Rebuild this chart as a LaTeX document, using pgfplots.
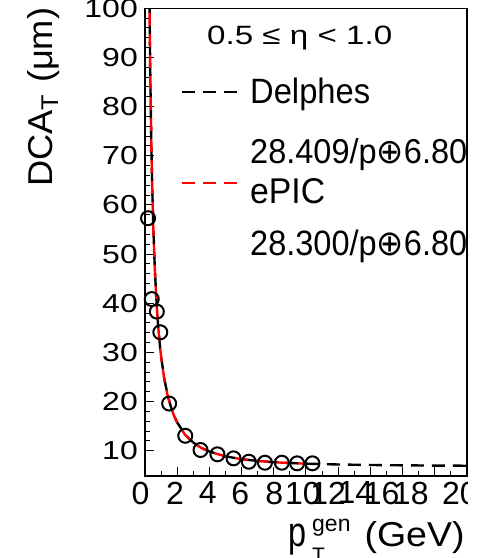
\documentclass[border=0pt]{standalone}
\usepackage{pgfplots}
\pgfplotsset{compat=1.18}
\usepackage{fontspec}
\setmainfont{Liberation Sans}
\newfontfamily\dejavu{DejaVu Sans}
\usepackage{graphicx}
\newcommand\xl[2]{\makebox[0pt]{\hspace*{#1}\hspace*{#1}#2}}
\begin{document}
\begin{tikzpicture}
\useasboundingbox (-145pt,-82pt) rectangle (332pt,476pt);
\begin{axis}[
  scale only axis, width=322pt, height=467.7pt,
  at={(0pt,0pt)}, anchor=south west,
  xmin=0, xmax=20, ymin=4.86, ymax=100,
  axis line style={line width=1.2pt},
  tick align=inside, xtick pos=bottom, ytick pos=left,
  xtick={0,2,...,20}, minor x tick num=1,
  ytick={10,20,...,100}, minor y tick num=4,
  major tick length=9pt, minor tick length=5pt,
  every tick/.style={black, line width=1pt},
  /pgf/number format/assume math mode=true,
  yticklabel={\scalebox{1.23}[1]{\fontsize{26}{26}\selectfont\pgfmathprintnumber{\tick}}},
  yticklabel style={anchor=east, inner sep=0pt, xshift=-7pt},
  xticklabels={\xl{-4.5pt}{0},\xl{-2.1pt}{2},\xl{-1.7pt}{4},\xl{-1.3pt}{6},\xl{0.6pt}{8},\xl{-3pt}{10},\xl{-10pt}{12},\xl{-15pt}{14},\xl{-21pt}{16},\xl{-24pt}{18},\xl{-7pt}{20}},
  xticklabel style={anchor=north, inner sep=0pt, yshift=-5.5pt, font=\fontsize{32}{32}\selectfont},
  clip=true,
]
\addplot[only marks, mark=o, mark size=7pt, mark options={line width=2pt, black}] coordinates {
(0.19,57.3) (0.42,40.85) (0.735,38.3) (0.95,34.1) (1.5,19.6) (2.5,13.05) (3.45,10.15) (4.5,9.27) (5.5,8.45) (6.45,7.76) (7.45,7.56) (8.5,7.56) (9.45,7.44) (10.4,7.44)
};
\addplot[black, line width=2.4pt, dash pattern=on 13pt off 8pt] coordinates {
(0.28,101.69) (0.30,94.94) (0.32,89.04) (0.35,81.45) (0.40,71.35) (0.45,63.50) (0.50,57.23) (0.60,47.84) (0.70,41.15) (0.80,36.16) (0.90,32.29) (1.0,29.21) (1.2,24.63) (1.4,21.40) (1.6,19.01) (1.8,17.18) (2.0,15.75) (2.5,13.24) (3.0,11.66) (3.5,10.59) (4,9.83) (5,8.86) (6,8.29) (7,7.92) (8,7.67) (9,7.50) (10,7.37) (12,7.20) (14,7.10) (16,7.03) (18,6.98) (20,6.95)
};
\addplot[red, line width=2.4pt, dash pattern=on 13pt off 8pt, dash phase=10pt] coordinates {
(0.28,101.30) (0.30,94.58) (0.32,88.70) (0.35,81.15) (0.40,71.08) (0.45,63.26) (0.50,57.01) (0.60,47.66) (0.70,41.00) (0.80,36.02) (0.90,32.17) (1.0,29.11) (1.2,24.54) (1.4,21.32) (1.6,18.95) (1.8,17.13) (2.0,15.70) (2.5,13.20) (3,11.63) (3.5,10.57) (4,9.81) (5,8.85) (6,8.28) (7,7.91) (8,7.67) (9,7.49) (10,7.37)
};
\end{axis}
% legend
\node[anchor=base west, inner sep=0pt] at (62pt,431pt) {\resizebox{185pt}{18.5pt}{0.5 ≤ η < 1.0}};
\draw[black, line width=2.5pt, dash pattern=on 13pt off 8pt] (37pt,384pt) -- (92pt,384pt);
\node[anchor=base west, inner sep=0pt] at (105pt,373pt) {\resizebox{120pt}{25.5pt}{Delphes}};
\node[anchor=base west, inner sep=0pt] at (105pt,313pt) {\resizebox{217pt}{25pt}{28.409/p{\dejavu ⊕}6.80}};
\draw[red, line width=2.5pt, dash pattern=on 13pt off 8pt] (37pt,293pt) -- (92pt,293pt);
\node[anchor=base west, inner sep=0pt] at (105pt,273pt) {\resizebox{75pt}{25pt}{ePIC}};
\node[anchor=base west, inner sep=0pt] at (105pt,221pt) {\resizebox{217pt}{25.5pt}{28.300/p{\dejavu ⊕}6.80}};
% axis titles
\node[rotate=90, anchor=base west, inner sep=0pt] at (-92pt,289pt) {\resizebox{179pt}{25pt}{DCA\textsubscript{T} (μm)}};
\node[anchor=base west, inner sep=0pt] at (143pt,-70pt) {\resizebox{18pt}{22.5pt}{p}\hspace{6pt}\rlap{\raisebox{-16pt}{\fontsize{21}{21}\selectfont T}}\raisebox{14.3pt}{\fontsize{23}{23}\selectfont gen}\hspace{14pt}\resizebox{100pt}{25pt}{(GeV)}};
\fill[white] (322.6pt,-82pt) rectangle (332pt,476pt);
\end{tikzpicture}
\end{document}
